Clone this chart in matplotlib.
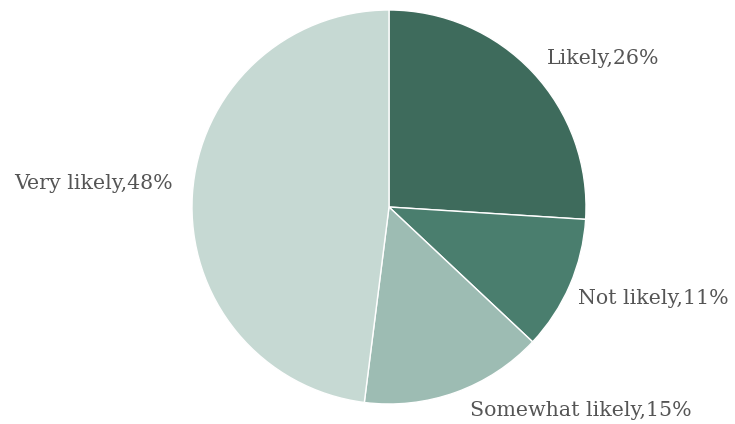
import matplotlib

matplotlib.use("Agg")
import matplotlib.pyplot as plt

# survey answers, clockwise from 12 o'clock
labels = ["Likely", "Not likely", "Somewhat likely", "Very likely"]
shares = [26, 11, 15, 48]
colors = ["#3e6b5c", "#4a7e6e", "#9dbcb3", "#c6d9d3"]

W, H, DPI = 735, 424, 100
cx, cy, r = 389, 217, 197  # pie centre/radius in pixels (from bottom-left)

fig = plt.figure(figsize=(W / DPI, H / DPI), dpi=DPI)
ax = fig.add_axes([(cx - r) / W, (cy - r) / H, 2 * r / W, 2 * r / H])

texts = [f"{lab},{v}%" for lab, v in zip(labels, shares)]
wedges, label_texts = ax.pie(
    shares,
    labels=texts,
    colors=colors,
    startangle=90,
    counterclock=False,
    labeldistance=1.1,
    wedgeprops=dict(edgecolor="white", linewidth=1),
    textprops=dict(family="DejaVu Serif", fontsize=14.8, color="#555555"),
)
# small nudges so the labels sit a bit closer to their slices
for t, (dx, dy) in zip(label_texts, [(0, 0), (-0.05, -0.03), (0.04, 0), (0, 0.05)]):
    x, y = t.get_position()
    t.set_position((x + dx, y + dy))

ax.set_xlim(-1, 1)
ax.set_ylim(-1, 1)
ax.set_aspect("equal")

fig.savefig("out.png", dpi=DPI, facecolor="white")
